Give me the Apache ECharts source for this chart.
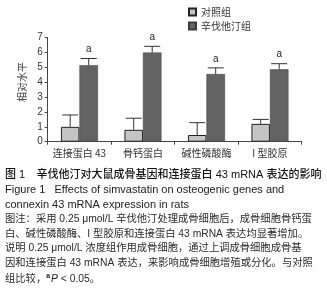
<!DOCTYPE html>
<html><head><meta charset="utf-8">
<script src="https://cdn.jsdelivr.net/npm/echarts@6/dist/echarts.min.js"></script>
<style>html,body{margin:0;padding:0;background:#fff}#c{width:327px;height:299px}</style>
</head><body><div id="c"></div>
<script>
var categories = ['连接蛋白 43', '骨钙蛋白', '碱性磷酸酶', 'I 型胶原'];
var seriesNames = ['对照组', '辛伐他汀组'];
var controlValues = [1.0, 0.8, 0.45, 1.2];
var controlErr = [0.8, 0.78, 0.83, 0.3];
var simvaValues = [5.15, 6.0, 4.55, 4.87];
var simvaErr = [0.45, 0.42, 0.42, 0.38];
var sigLabels = ['a', 'a', 'a', 'a'];
var yTicks = [0, 1, 2, 3, 4, 5, 6, 7];

var chart = echarts.init(document.getElementById('c'), null, {renderer: 'canvas'});
var barW = 18.5;
function errSeries(vals, errs, off, showSig) {
  return {
    type: 'custom', z: 10,
    data: vals.map(function (v, i) { return [i, v, v + errs[i]]; }),
    renderItem: function (params, api) {
      var top = api.coord([api.value(0), api.value(2)]);
      var base = api.coord([api.value(0), api.value(1)]);
      var x = top[0] + off;
      var hw = 8;
      var children = [
        {type: 'line', shape: {x1: x, y1: base[1], x2: x, y2: top[1]}, style: {stroke: '#333', lineWidth: 1}},
        {type: 'line', shape: {x1: x - hw, y1: top[1], x2: x + hw, y2: top[1]}, style: {stroke: '#333', lineWidth: 1}}
      ];
      if (showSig) {
        children.push({type: 'text', style: {text: sigLabels[params.dataIndex], x: x, y: top[1] - 9, align: 'center', verticalAlign: 'middle', font: '10px "Liberation Sans", Arial, sans-serif', fill: '#222'}});
      }
      return {type: 'group', children: children};
    }
  };
}
var capStyle = '10.3px "Liberation Sans", "Noto Sans CJK SC", sans-serif';
var enStyle = '11px "Liberation Sans", Arial, sans-serif';
var lines = [
  {t: '{b|图 1}    {b|辛伐他汀对大鼠成骨基因和连接蛋白 43 mRNA 表达的影响}', y: 176},
  {t: 'Figure 1   Effects of simvastatin on osteogenic genes and', y: 191.5, en: true},
  {t: 'connexin 43 mRNA expression in rats', y: 206, en: true},
  {t: '图注：采用 0.25 μmol/L 辛伐他汀处理成骨细胞后，成骨细胞骨钙蛋', y: 221.5},
  {t: '白、碱性磷酸酶、I 型胶原和连接蛋白 43 mRNA 表达均显著增加。', y: 236},
  {t: '说明 0.25 μmol/L 浓度组作用成骨细胞，通过上调成骨细胞成骨基', y: 250.5},
  {t: '因和连接蛋白 43 mRNA 表达，来影响成骨细胞增殖或分化。与对照', y: 265.5},
  {t: '组比较，{s|a}{i|P} < 0.05。', y: 280}
];
var graphics = lines.map(function (l) {
  return {type: 'text', left: 5, top: l.y - 7, style: {
    text: l.t, font: l.en ? enStyle : capStyle, fill: l.en ? '#1a1a1a' : '#2a2a2a',
    rich: {
      b: {font: '500 11px "Liberation Sans", "Noto Sans CJK SC", sans-serif', fill: '#111'},
      s: {font: 'bold 7px "Liberation Sans", sans-serif', verticalAlign: 'top', fill: '#222', padding: [0, 1, 6, 0]},
      i: {font: 'italic 10.3px "Liberation Sans", sans-serif', fill: '#222'}
    }
  }};
});
graphics.push({type: 'text', left: 17, top: 62, rotation: Math.PI / 2, style: {text: '相对水平', font: '10px "Noto Sans CJK SC", sans-serif', fill: '#333'}});

chart.setOption({
  animation: false,
  backgroundColor: '#fff',
  grid: {left: 47.7, right: 25.3, top: 37.7, bottom: 157.3, containLabel: false},
  legend: {
    orient: 'vertical', left: 183, top: 2, itemWidth: 7, itemHeight: 7, itemGap: 4,
    textStyle: {fontSize: 10, color: '#333', fontFamily: '"Noto Sans CJK SC", sans-serif'},
    data: [{name: seriesNames[0], icon: 'rect'}, {name: seriesNames[1], icon: 'rect'}]
  },
  xAxis: {
    type: 'category', data: categories,
    axisLine: {lineStyle: {color: '#444'}},
    axisTick: {show: true, length: 3, lineStyle: {color: '#444'}},
    axisLabel: {color: '#333', fontSize: 10, margin: 7, interval: 0, fontFamily: '"Noto Sans CJK SC", sans-serif'}
  },
  yAxis: {
    type: 'value', min: yTicks[0], max: yTicks[yTicks.length - 1], interval: 1,
    axisLine: {show: true, lineStyle: {color: '#444'}},
    axisTick: {show: true, length: 3, lineStyle: {color: '#444'}},
    splitLine: {show: false},
    axisLabel: {color: '#333', fontSize: 10, margin: 5, fontFamily: '"Liberation Sans", Arial, sans-serif'}
  },
  series: [
    {name: seriesNames[0], type: 'bar', data: controlValues, barWidth: barW, barGap: '0%',
     itemStyle: {color: '#c4c4c4', borderColor: '#222', borderWidth: 1}},
    {name: seriesNames[1], type: 'bar', data: simvaValues, barWidth: barW, barGap: '0%',
     itemStyle: {color: '#636363', borderColor: '#3a3a3a', borderWidth: 0.5}},
    errSeries(controlValues, controlErr, -barW / 2, false),
    errSeries(simvaValues, simvaErr, barW / 2, true)
  ],
  graphic: graphics
});
</script></body></html>
